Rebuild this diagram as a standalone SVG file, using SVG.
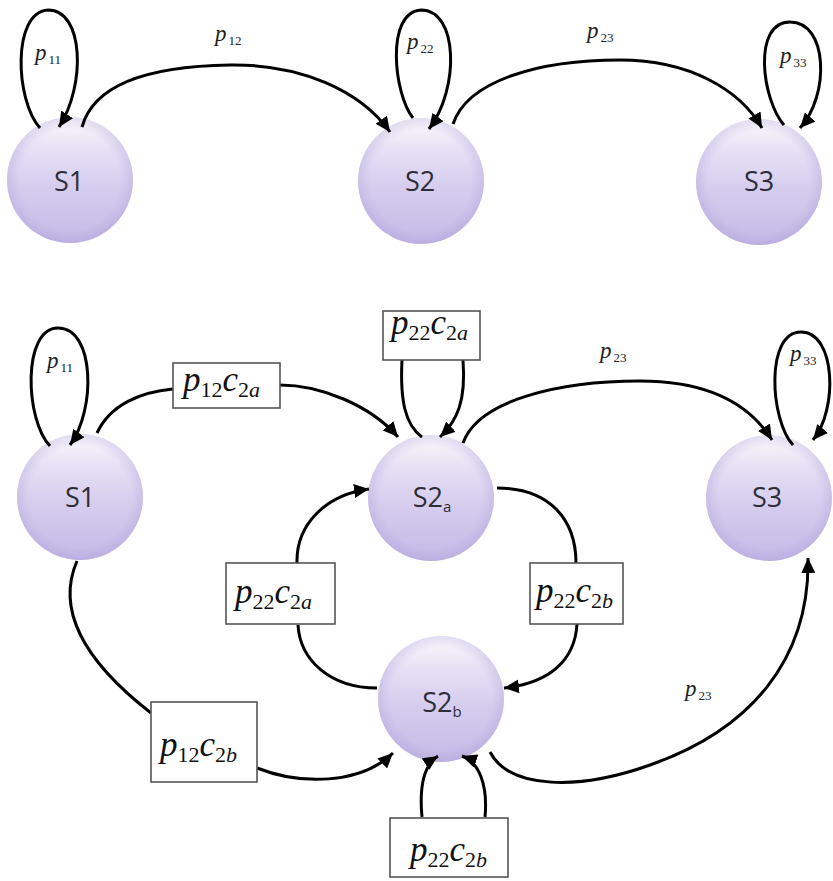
<svg xmlns="http://www.w3.org/2000/svg" width="833" height="881" viewBox="0 0 833 881">
  <style>
    .edge { fill: none; stroke: #000; stroke-width: 3; }
    .arr { marker-end: url(#head); }
    .node-label { font-family: "Open Sans", "Liberation Sans", sans-serif; font-size: 27px; fill: #2e2e3a; text-anchor: middle; }
    .node-sub { font-size: 15px; }
    .prob { font-family: "Liberation Serif", serif; fill: #222; }
    .prob .v { font-style: italic; font-size: 23px; }
    .prob .s { font-size: 13px; }
    .box rect { fill: #fff; stroke: #555; stroke-width: 1.6; }
    .box text { font-family: "Liberation Serif", serif; fill: #111; }
    .box .v { font-style: italic; font-size: 35px; }
    .box .s { font-size: 22px; }
    .box .sv { font-size: 22px; font-style: italic; }
  </style>
  <defs>
    <marker id="head" markerUnits="userSpaceOnUse" markerWidth="16" markerHeight="14" refX="15" refY="7" orient="auto">
      <path d="M0,0 L15,7 L0,14 z" fill="#000"/>
    </marker>
    <!-- soft lavender sphere: pale top, deeper bottom, slightly darker rim -->
    <linearGradient id="ball" x1="0" y1="0" x2="0" y2="1">
      <stop offset="0" stop-color="#fbfafd"/>
      <stop offset="0.25" stop-color="#e6e1f5"/>
      <stop offset="0.55" stop-color="#d6cdee"/>
      <stop offset="1" stop-color="#c5b9e6"/>
    </linearGradient>
    <radialGradient id="rim" cx="0.5" cy="0.5" r="0.5">
      <stop offset="0.8" stop-color="#a597d4" stop-opacity="0"/>
      <stop offset="1" stop-color="#a597d4" stop-opacity="0.3"/>
    </radialGradient>
    <g id="sphere">
      <circle r="63" fill="url(#ball)"/>
      <circle r="63" fill="url(#rim)"/>
    </g>
  </defs>

  <rect width="833" height="881" fill="#fff"/>

  <!-- upper chain: S1 -> S2 -> S3 -->
  <g id="top-S1"><use href="#sphere" x="70" y="180"/><text class="node-label" x="69" y="191">S1</text></g>
  <g id="top-S2"><use href="#sphere" x="421" y="181"/><text class="node-label" x="420" y="191">S2</text></g>
  <g id="top-S3"><use href="#sphere" x="759" y="182"/><text class="node-label" x="759" y="191">S3</text></g>

  <!-- lower chain with split state S2a / S2b -->
  <g id="low-S1"><use href="#sphere" x="80" y="497"/><text class="node-label" x="80" y="507">S1</text></g>
  <g id="low-S2a"><use href="#sphere" x="431" y="498"/><text class="node-label" x="432" y="507">S2<tspan class="node-sub" dy="5">a</tspan></text></g>
  <g id="low-S3"><use href="#sphere" x="769" y="498"/><text class="node-label" x="767" y="507">S3</text></g>
  <g id="low-S2b"><use href="#sphere" x="441" y="699"/><text class="node-label" x="442" y="712">S2<tspan class="node-sub" dy="5">b</tspan></text></g>

  <g id="connectors">
    <!-- upper chain -->
    <path class="edge arr" d="M40,128 C15,100 12,12 48,10 C84,10 86,85 59,127"/>
    <path class="edge arr" d="M82,127 C95,80 160,66 230,65 C300,64 360,90 390,132"/>
    <path class="edge arr" d="M413,118 C394,95 385,12 421,10 C458,10 460,88 429,129"/>
    <path class="edge arr" d="M453,124 C468,80 540,60 620,60 C690,60 740,90 762,128"/>
    <path class="edge arr" d="M784,125 C762,100 752,22 790,22 C828,22 830,95 800,128"/>

    <!-- lower chain -->
    <path class="edge arr" d="M50,446 C25,420 22,328 58,328 C95,328 96,410 70,445"/>
    <path class="edge" d="M97,433 C110,405 140,392 173,389"/>
    <path class="edge arr" d="M280,385 C320,385 370,405 398,437"/>
    <path class="edge" d="M402,360 C400,400 405,425 422,437"/>
    <path class="edge arr" d="M463,360 C466,400 458,420 440,437"/>
    <path class="edge arr" d="M463,443 C478,400 560,381 640,381 C710,381 750,405 772,440"/>
    <path class="edge arr" d="M793,445 C770,420 765,332 801,332 C836,332 838,410 813,440"/>
    <path class="edge" d="M497,488 C550,488 576,520 576,563"/>
    <path class="edge arr" d="M577,624 C575,660 550,683 504,688"/>
    <path class="edge" d="M377,688 C330,688 300,660 298,625"/>
    <path class="edge arr" d="M297,563 C296,525 325,495 369,489"/>
    <path class="edge" d="M77,561 C60,600 70,650 151,713"/>
    <path class="edge arr" d="M257,768 C300,785 360,785 393,753"/>
    <path class="edge arr" d="M422,817 C419,785 424,765 438,756"/>
    <path class="edge arr" d="M485,817 C488,785 479,762 462,756"/>
    <path class="edge arr" d="M490,752 C510,790 580,790 650,765 C750,730 810,660 808,558"/>
  </g>

  <!-- plain transition probabilities -->
  <g id="labels">
    <text class="prob" x="35" y="60"><tspan class="v">p</tspan><tspan class="s" dx="2" dy="4">11</tspan></text>
    <text class="prob" x="215" y="41"><tspan class="v">p</tspan><tspan class="s" dx="2" dy="4">12</tspan></text>
    <text class="prob" x="407" y="49"><tspan class="v">p</tspan><tspan class="s" dx="2" dy="4">22</tspan></text>
    <text class="prob" x="587" y="38"><tspan class="v">p</tspan><tspan class="s" dx="2" dy="4">23</tspan></text>
    <text class="prob" x="780" y="63"><tspan class="v">p</tspan><tspan class="s" dx="2" dy="4">33</tspan></text>
    <text class="prob" x="47" y="368"><tspan class="v">p</tspan><tspan class="s" dx="2" dy="4">11</tspan></text>
    <text class="prob" x="600" y="358"><tspan class="v">p</tspan><tspan class="s" dx="2" dy="4">23</tspan></text>
    <text class="prob" x="790" y="361"><tspan class="v">p</tspan><tspan class="s" dx="2" dy="4">33</tspan></text>
    <text class="prob" x="685" y="696"><tspan class="v">p</tspan><tspan class="s" dx="2" dy="4">23</tspan></text>
  </g>

  <!-- boxed transition probabilities -->
  <g id="box-p12c2a" class="box">
    <rect x="173" y="363" width="107" height="45"/>
    <text x="183" y="391"><tspan class="v">p</tspan><tspan class="s" dy="6">12</tspan><tspan class="v" dy="-6">c</tspan><tspan class="s" dy="6">2</tspan><tspan class="sv">a</tspan></text>
  </g>
  <g id="box-p22c2a-top" class="box">
    <rect x="383" y="311" width="97" height="49"/>
    <text x="391" y="334"><tspan class="v">p</tspan><tspan class="s" dy="6">22</tspan><tspan class="v" dy="-6">c</tspan><tspan class="s" dy="6">2</tspan><tspan class="sv">a</tspan></text>
  </g>
  <g id="box-p22c2a-left" class="box">
    <rect x="226" y="563" width="109" height="61"/>
    <text x="235" y="603"><tspan class="v">p</tspan><tspan class="s" dy="6">22</tspan><tspan class="v" dy="-6">c</tspan><tspan class="s" dy="6">2</tspan><tspan class="sv">a</tspan></text>
  </g>
  <g id="box-p22c2b-right" class="box">
    <rect x="530" y="563" width="93" height="61"/>
    <text x="536" y="602"><tspan class="v">p</tspan><tspan class="s" dy="6">22</tspan><tspan class="v" dy="-6">c</tspan><tspan class="s" dy="6">2</tspan><tspan class="sv">b</tspan></text>
  </g>
  <g id="box-p12c2b" class="box">
    <rect x="151" y="702" width="106" height="80"/>
    <text x="160" y="756"><tspan class="v">p</tspan><tspan class="s" dy="6">12</tspan><tspan class="v" dy="-6">c</tspan><tspan class="s" dy="6">2</tspan><tspan class="sv">b</tspan></text>
  </g>
  <g id="box-p22c2b-bottom" class="box">
    <rect x="390" y="818" width="118" height="59"/>
    <text x="410" y="861"><tspan class="v">p</tspan><tspan class="s" dy="6">22</tspan><tspan class="v" dy="-6">c</tspan><tspan class="s" dy="6">2</tspan><tspan class="sv">b</tspan></text>
  </g>
</svg>
